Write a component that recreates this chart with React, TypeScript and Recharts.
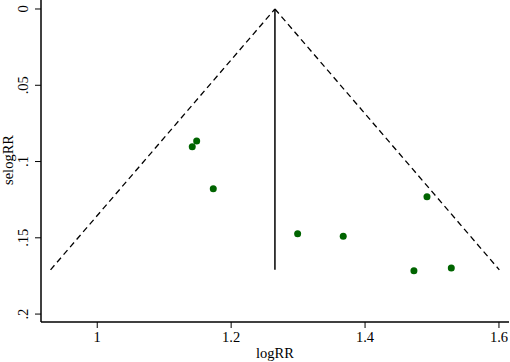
import { Label, Scatter, ScatterChart, XAxis, YAxis } from 'recharts'

// study estimates (logRR vs its standard error)
const logRR = [1.1485, 1.1419, 1.1733, 1.4925, 1.2993, 1.3674, 1.473, 1.5288]
const selogRR = [0.0866, 0.0903, 0.1178, 0.1231, 0.1473, 0.149, 0.1716, 0.1698]

const pooled = 1.2654
const maxSe = 0.171

const xTicks = [1, 1.2, 1.4, 1.6]
const xTickLabels = ['1', '1.2', '1.4', '1.6']
const yTicks = [0, 0.05, 0.1, 0.15, 0.2]
const yTickLabels = ['0', '.05', '.1', '.15', '.2']

const studies = logRR.map((x, i) => ({ x, y: selogRR[i] }))
const funnelLeft = [
  { x: pooled - 1.96 * maxSe, y: maxSe },
  { x: pooled, y: 0 },
]
const funnelRight = [
  { x: pooled, y: 0 },
  { x: pooled + 1.96 * maxSe, y: maxSe },
]
const centerLine = [
  { x: pooled, y: 0 },
  { x: pooled, y: maxSe },
]

const font = '"Liberation Serif", "Times New Roman", serif'
const noDot = () => <g />

function XTick(props: any) {
  const { x, y, payload } = props
  const i = xTicks.indexOf(payload.value)
  return (
    <text x={x} y={y + 12} textAnchor="middle" fontFamily={font} fontSize={14.5} fill="#000">
      {xTickLabels[i]}
    </text>
  )
}

function YTick(props: any) {
  const { y, payload } = props
  const i = yTicks.indexOf(payload.value)
  const cx = 23
  return (
    <text
      x={cx}
      y={y}
      transform={`rotate(-90, ${cx}, ${y})`}
      textAnchor="middle"
      dominantBaseline="central"
      fontFamily={font}
      fontSize={14.5}
      fill="#000"
    >
      {yTickLabels[i]}
    </text>
  )
}

export default function App() {
  return (
    <div style={{ position: 'absolute', left: 0, top: 0, background: '#fff' }}>
      <ScatterChart width={510} height={362} margin={{ top: 0, right: 1, bottom: 0, left: 0 }}>
        <XAxis
          type="number"
          dataKey="x"
          domain={[0.916, 1.615]}
          ticks={xTicks}
          interval={0}
          tick={<XTick />}
          tickSize={6}
          height={40}
          axisLine={{ stroke: '#000', strokeWidth: 1.5 }}
          tickLine={{ stroke: '#000', strokeWidth: 1 }}
          allowDataOverflow
        >
          <Label
            content={() => (
              <text x={275} y={353} textAnchor="middle" dominantBaseline="central" fontFamily={font} fontSize={14.5} fill="#000">
                logRR
              </text>
            )}
          />
        </XAxis>
        <YAxis
          type="number"
          dataKey="y"
          reversed
          domain={[-0.0059, 0.2052]}
          ticks={yTicks}
          interval={0}
          tick={<YTick />}
          tickSize={6}
          width={41}
          axisLine={{ stroke: '#000', strokeWidth: 1.5 }}
          tickLine={{ stroke: '#000', strokeWidth: 1 }}
          allowDataOverflow
        >
          <Label
            content={() => (
              <text
                x={8}
                y={160}
                transform="rotate(-90, 8, 160)"
                textAnchor="middle"
                dominantBaseline="central"
                fontFamily={font}
                fontSize={14.5}
                fill="#000"
              >
                selogRR
              </text>
            )}
          />
        </YAxis>
        <Scatter
          data={funnelLeft}
          line={{ stroke: '#000', strokeWidth: 1.3, strokeDasharray: '6 4' }}
          shape={noDot}
          isAnimationActive={false}
        />
        <Scatter
          data={funnelRight}
          line={{ stroke: '#000', strokeWidth: 1.3, strokeDasharray: '6 4' }}
          shape={noDot}
          isAnimationActive={false}
        />
        <Scatter
          data={centerLine}
          line={{ stroke: '#000', strokeWidth: 1.5 }}
          shape={noDot}
          isAnimationActive={false}
        />
        <Scatter
          data={studies}
          shape={(p: any) => <circle cx={p.cx} cy={p.cy} r={3.5} fill="#006400" />}
          isAnimationActive={false}
        />
      </ScatterChart>
    </div>
  )
}
